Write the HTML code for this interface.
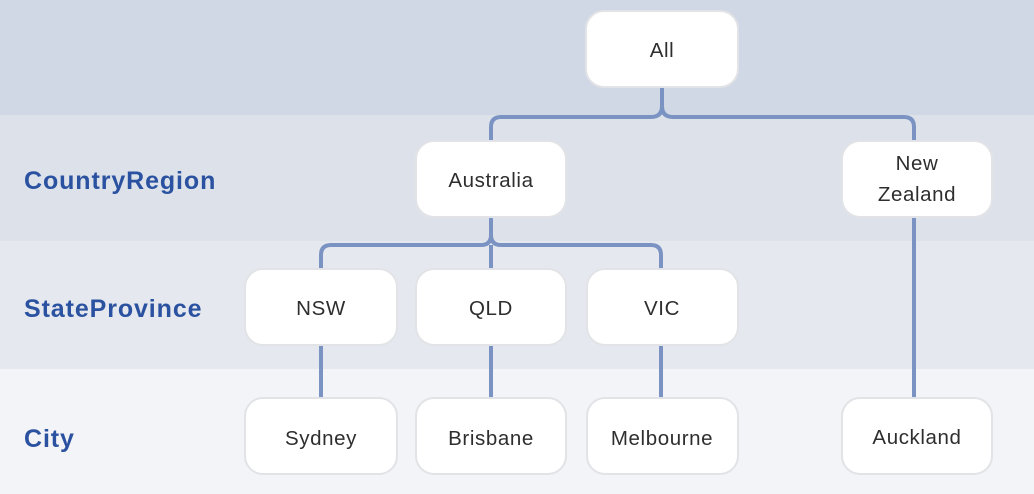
<!DOCTYPE html>
<html><head><meta charset="utf-8"><style>
html,body{margin:0;padding:0;width:1034px;height:494px;overflow:hidden;}
svg{display:block}
text{font-family:"Liberation Sans","DejaVu Sans",sans-serif;}
.n{fill:#fff;stroke:#e2e3e6;stroke-width:2}
.t{font-size:20.5px;fill:#2e2e2e;text-anchor:middle;letter-spacing:0.6px}
.l{font-size:25px;fill:#2b52a0;font-weight:bold;letter-spacing:0.9px}
.c{fill:none;stroke:#7b93c3;stroke-width:4}
</style></head><body>
<svg width="1034" height="494" viewBox="0 0 1034 494">
<rect x="0" y="0" width="1034" height="115" fill="#d0d8e5"/>
<rect x="0" y="115" width="1034" height="126" fill="#dde2ea"/>
<rect x="0" y="241" width="1034" height="128" fill="#e5e8ee"/>
<rect x="0" y="369" width="1034" height="125" fill="#f3f4f7"/>
<text class="l" x="24" y="189">CountryRegion</text>
<text class="l" x="24" y="317">StateProvince</text>
<text class="l" x="24" y="447">City</text>
<path class="c" d="M662 87 V106 Q662 117 651 117 H501 Q491 117 491 127 V141"/>
<path class="c" d="M662 106 Q662 117 673 117 H904 Q914 117 914 127 V141"/>
<path class="c" d="M491 217 V235 Q491 245 481 245 H331 Q321 245 321 255 V269"/>
<path class="c" d="M491 235 Q491 245 501 245 H651 Q661 245 661 255 V269"/>
<path class="c" d="M491 245 V269"/>
<path class="c" d="M914 217 V398"/>
<path class="c" d="M321 345 V398 M491 345 V398 M661 345 V398"/>
<rect class="n" x="586" y="11" width="152" height="76" rx="18"/>
<text class="t" x="662" y="57">All</text>
<rect class="n" x="416" y="141" width="150" height="76" rx="18"/>
<text class="t" x="491" y="187">Australia</text>
<rect class="n" x="842" y="141" width="150" height="76" rx="18"/>
<text class="t" x="917" y="170">New</text>
<text class="t" x="917" y="201">Zealand</text>
<rect class="n" x="245" y="269" width="152" height="76" rx="18"/>
<text class="t" x="321" y="315">NSW</text>
<rect class="n" x="416" y="269" width="150" height="76" rx="18"/>
<text class="t" x="491" y="315">QLD</text>
<rect class="n" x="587" y="269" width="151" height="76" rx="18"/>
<text class="t" x="662" y="315">VIC</text>
<rect class="n" x="245" y="398" width="152" height="76" rx="18"/>
<text class="t" x="321" y="445">Sydney</text>
<rect class="n" x="416" y="398" width="150" height="76" rx="18"/>
<text class="t" x="491" y="445">Brisbane</text>
<rect class="n" x="587" y="398" width="151" height="76" rx="18"/>
<text class="t" x="662" y="445">Melbourne</text>
<rect class="n" x="842" y="398" width="150" height="76" rx="18"/>
<text class="t" x="917" y="444">Auckland</text>
</svg>
</body></html>
